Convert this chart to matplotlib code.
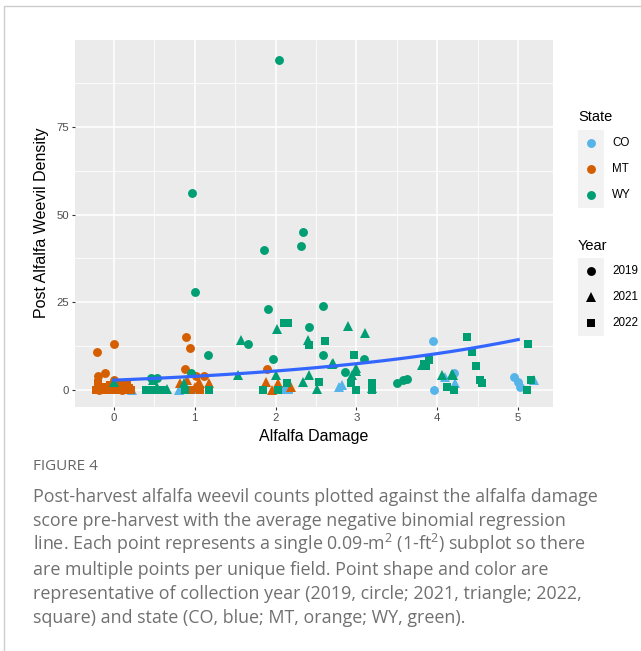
import numpy as np
import matplotlib
matplotlib.use('Agg')
import matplotlib.pyplot as plt
from matplotlib.patches import Rectangle
from matplotlib.lines import Line2D

# subplot records: state, collection year, damage score, post-harvest weevil count
state = (['CO'] * 6 + ['CO'] * 7 + ['CO'] * 3
         + ['MT'] * 14 + ['MT'] * 9 + ['MT'] * 22
         + ['WY'] * 21 + ['WY'] * 25 + ['WY'] * 32)
year = ([2019] * 6 + [2021] * 7 + [2022] * 3
        + [2019] * 14 + [2021] * 9 + [2022] * 22
        + [2019] * 21 + [2021] * 25 + [2022] * 32)
damage = [
    # CO
    3.95, 3.96, 4.20, 4.95, 5.00, 5.02,
    0.80, 2.78, 2.82, 4.10, 4.22, 5.20, 0.22,
    0.99, 2.12, 2.17,
    # MT
    -0.21, 0.00, -0.11, -0.20, 0.00, -0.18, 0.10, 0.89, 0.94, 0.88, 1.01, 1.11, 1.03, 1.90,
    0.82, 0.90, 1.05, 1.18, 1.00, 1.88, 2.03, 1.95, 2.19,
    -0.22, -0.17, -0.12, -0.07, -0.02, 0.03, 0.08, 0.13, 0.18, 0.21,
    -0.15, -0.05, 0.06, 0.16, 1.07, 0.95,
    -0.20, -0.10, 0.00, 0.10, 0.19, -0.04,
    # WY
    0.46, 0.54, 0.95, 1.00, 0.97, 1.16, 1.66, 1.97, 1.86, 2.34, 2.31, 1.91, 2.59, 2.41,
    2.04, 2.59, 2.86, 3.09, 3.50, 3.58, 3.62,
    0.00, 0.54, 0.66, 0.87, 1.57, 1.54, 2.02, 2.01, 2.40, 2.41, 2.34, 2.51, 2.71, 2.90,
    3.11, 2.95, 2.99, 3.19, 3.81, 4.06, 4.18, 4.19, 0.48, 2.70, 3.00,
    0.40, 0.46, 0.54, 0.88, 1.18, 2.11, 2.15, 1.85, 2.03, 2.14, 2.41, 2.61, 2.54, 2.97,
    2.93, 2.99, 3.19, 3.19, 3.86, 3.90, 4.12, 4.21, 4.37, 4.43, 4.48, 4.53, 4.55, 5.12,
    5.16, 5.11, 0.60, 3.84,
]
density = [
    # CO
    14, 0, 4.9, 3.8, 2.4, 1,
    0, 0.8, 1.4, 3.8, 1.9, 3, 0,
    0, 0, 0,
    # MT
    11, 13, 5, 4, 3, 0, 0, 15, 12, 6, 4, 4, 0.5, 6,
    2, 3, 2.4, 2, 1, 2.4, 1.9, 0, 0.8,
    0, 0, 0, 0, 0, 0, 0, 0, 0, 0,
    1, 1.5, 1, 1.5, 0, 0,
    2, 1, 1, 2, 0.5, 0.5,
    # WY
    3.4, 3.4, 5, 28, 56, 10, 13, 9, 40, 45, 41, 23, 24, 18,
    94, 10, 5.2, 9, 1.9, 2.8, 3.3,
    2.4, 0.9, 0.3, 2, 14.2, 4.2, 17.4, 4.2, 14.2, 4.3, 2.2, 0.2, 7.6, 18.2,
    16.4, 4.3, 6.4, 0.5, 7.1, 4.3, 4.5, 4.3, 3, 7.4, 5.5,
    0, 0, 0, 0, 0, 19, 19, 0, 0, 2, 12.9, 14, 2.2, 10,
    2.1, 0, 2.1, 0, 6.8, 8.7, 1, 0, 15, 10.9, 6.9, 3, 1.9, 13.1,
    3, 0, 0, 7.5,
]

# negative binomial fit (log link)
nb_intercept = 1.047
nb_slope = 0.324

states = ['CO', 'MT', 'WY']
years = [2019, 2021, 2022]
state_colors = {'CO': '#56B4E9', 'MT': '#D55E00', 'WY': '#009E73'}
year_markers = {2019: ('o', 6.4), 2021: ('^', 7.0), 2022: ('s', 5.8)}

W, H = 641, 651
plt.rcParams['font.family'] = ['Liberation Sans', 'DejaVu Sans']
plt.rcParams['mathtext.fontset'] = 'custom'
plt.rcParams['mathtext.rm'] = 'Open Sans'
plt.rcParams['mathtext.it'] = 'Open Sans'


def fx(px):
    return px / W


def fy(py):
    return 1 - py / H


fig = plt.figure(figsize=(W / 100, H / 100), dpi=100)
ax = fig.add_axes([fx(75), fy(407), (553 - 75) / W, (407 - 40) / H])
ax.set_facecolor('#EBEBEB')
for s in ax.spines.values():
    s.set_visible(False)

ax.set_xlim(-0.48, 5.43)
ax.set_ylim(-4.8, 99.7)
ax.set_xticks(range(6))
ax.set_yticks([0, 25, 50, 75])
ax.set_xticks(np.arange(0.5, 5.0, 1.0), minor=True)
ax.set_yticks([12.5, 37.5, 62.5, 87.5], minor=True)
ax.grid(which='major', color='white', lw=1.1)
ax.grid(which='minor', color='white', lw=0.55)
ax.set_axisbelow(True)
ax.tick_params(which='major', length=2.5, width=0.8, color='#333333',
               labelcolor='#4D4D4D', labelsize=8.2, pad=2)
ax.tick_params(which='minor', length=0)

damage = np.array(damage)
density = np.array(density)
state_arr = np.array(state)
year_arr = np.array(year)
for st in states:
    for yr in years:
        m = (state_arr == st) & (year_arr == yr)
        if not m.any():
            continue
        mk, ms = year_markers[yr]
        ax.plot(damage[m], density[m], ls='none', marker=mk, ms=ms,
                color=state_colors[st], mew=0, zorder=3)

xs = np.linspace(0, 5, 100)
ax.plot(xs, np.exp(nb_intercept + nb_slope * xs), color='#3366FF', lw=2.3, zorder=4)

fig.text(fx(314), fy(436), 'Alfalfa Damage', ha='center', va='center', fontsize=11.5)
fig.text(fx(42), fy(223), 'Post Alfalfa Weevil Density', ha='center', va='center',
         rotation=90, fontsize=11.5)

# legends drawn by hand so the key backgrounds look like ggplot's
key = 26
def legend_block(title, title_y, top, labels, markers, colors):
    fig.text(fx(578), fy(title_y), title, ha='left', va='center', fontsize=10.5)
    fig.patches.append(Rectangle((fx(578), fy(top + key * len(labels))), key / W,
                                 key * len(labels) / H, transform=fig.transFigure,
                                 facecolor='#F2F2F2', edgecolor='none'))
    for i, (lab, (mk, ms), c) in enumerate(zip(labels, markers, colors)):
        cy = top + key * i + key / 2
        fig.lines.append(Line2D([fx(591)], [fy(cy)], marker=mk, ms=ms, color=c, mew=0,
                                transform=fig.transFigure))
        fig.text(fx(612), fy(cy), lab, ha='left', va='center', fontsize=8.4)

legend_block('State', 117, 130, states, [('o', 6.4)] * 3,
             [state_colors[s] for s in states])
legend_block('Year', 246, 258, [str(y) for y in years],
             [year_markers[y] for y in years], ['black'] * 3)

# outer frame
fig.lines.append(Line2D([fx(4), fx(4), fx(641)], [fy(651), fy(6), fy(6)],
                        color='#CCCCCC', lw=1, transform=fig.transFigure))

caption_color = '#707070'
fig.text(fx(33), fy(467), 'FIGURE 4', ha='left', va='center', fontsize=11,
         color='#666666', family='Open Sans')
caption_lines = [
    'Post-harvest alfalfa weevil counts plotted against the alfalfa damage',
    'score pre-harvest with the average negative binomial regression',
    'line. Each point represents a single 0.09-m$^{2}$ (1-ft$^{2}$) subplot so there',
    'are multiple points per unique field. Point shape and color are',
    'representative of collection year (2019, circle; 2021, triangle; 2022,',
    'square) and state (CO, blue; MT, orange; WY, green).',
]
for i, line in enumerate(caption_lines):
    fig.text(fx(33), fy(502 + 24.2 * i), line, ha='left', va='baseline',
             fontsize=12.9, color=caption_color, family='Open Sans')

fig.savefig('out.png', dpi=100)
